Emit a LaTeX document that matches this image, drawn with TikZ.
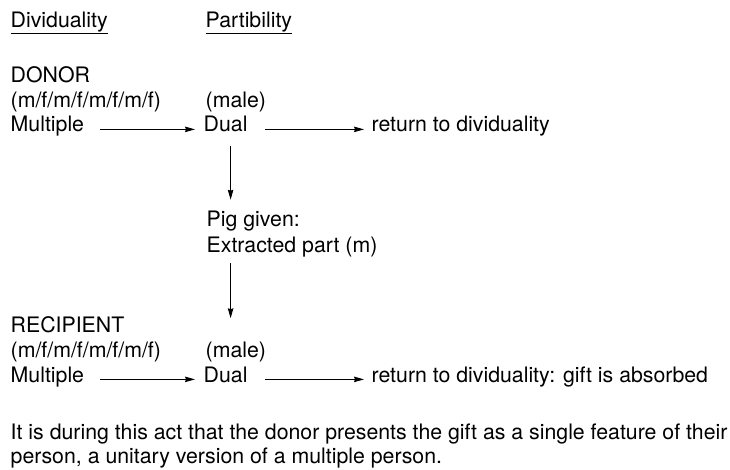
\documentclass[tikz,border=0pt]{standalone}
\usepackage{fontspec}
\setmainfont{TeX Gyre Heros}
\usetikzlibrary{arrows.meta}

\begin{document}
\begin{tikzpicture}[x=1pt, y=-1pt,
    lbl/.style={anchor=base west, inner sep=0pt, font=\fontsize{21.3}{24.5}\selectfont},
    flow/.style={-{Stealth[length=10pt, width=5.5pt, inset=1pt]}, line width=0.9pt},
    rule/.style={line width=0.9pt}]

    % Fix the frame to the reference's size
    \useasboundingbox (0,0) rectangle (730,470);

    % Column headings, underlined
    \node[lbl] (hdiv) at (10.5, 28) {Dividuality};
    \node[lbl] (hpart) at (205.5, 28) {Partibility};
    \draw[rule] ([yshift=-5pt]hdiv.base west) -- ([yshift=-5pt]hdiv.base east);
    \draw[rule] ([yshift=-5pt]hpart.base west) -- ([yshift=-5pt]hpart.base east);

    % Donor block
    \node[lbl] (donor) at (10.5, 83) {DONOR};
    \node[lbl] (mfd) at (10.5, 107.5) {(m/f/m/f/m/f/m/f)};
    \node[lbl] (maled) at (205.5, 107.5) {(male)};
    \node[lbl] (multd) at (10.5, 132) {Multiple};
    \node[lbl] (duald) at (203.5, 132) {Dual};
    \node[lbl] (retd) at (371.5, 132) {return to dividuality};

    % Arrows of the donor row
    \draw[flow, shorten <=16pt, shorten >=8.5pt] (multd.mid east) -- (duald.mid west);
    \draw[flow, shorten <=17.5pt, shorten >=7.5pt] (duald.mid east) -- (retd.mid west);

    % The gift in the middle
    \node[lbl] (pig) at (206.5, 227) {Pig given:};
    \node[lbl] (part) at (206.5, 252) {Extracted part (m)};

    % Recipient block
    \node[lbl] (recip) at (10.5, 332) {RECIPIENT};
    \node[lbl] (mfr) at (10.5, 357) {(m/f/m/f/m/f/m/f)};
    \node[lbl] (maler) at (205.5, 357) {(male)};
    \node[lbl] (multr) at (10.5, 382) {Multiple};
    \node[lbl] (dualr) at (203.5, 382) {Dual};
    \node[lbl] (retr) at (371.5, 382) {return to dividuality: gift is absorbed};

    % Arrows of the recipient row
    \draw[flow, shorten <=16pt, shorten >=8.5pt] (multr.mid east) -- (dualr.mid west);
    \draw[flow, shorten <=17.5pt, shorten >=7.5pt] (dualr.mid east) -- (retr.mid west);

    % Vertical arrows through the gift
    \draw[flow, shorten <=13pt, shorten >=11.5pt]
        ([xshift=5pt]duald.south) -- ([xshift=5pt]duald.south |- pig.north);
    \draw[flow, shorten <=6.5pt, shorten >=23pt]
        ([xshift=5pt]duald.south |- part.south) -- ([xshift=5pt]duald.south |- maler.north);

    % Closing remark
    \node[lbl] (note1) at (10.5, 439) {It is during this act that the donor presents the gift as a single feature of their};
    \node[lbl] (note2) at (10.5, 463) {person, a unitary version of a multiple person.};

\end{tikzpicture}
\end{document}
